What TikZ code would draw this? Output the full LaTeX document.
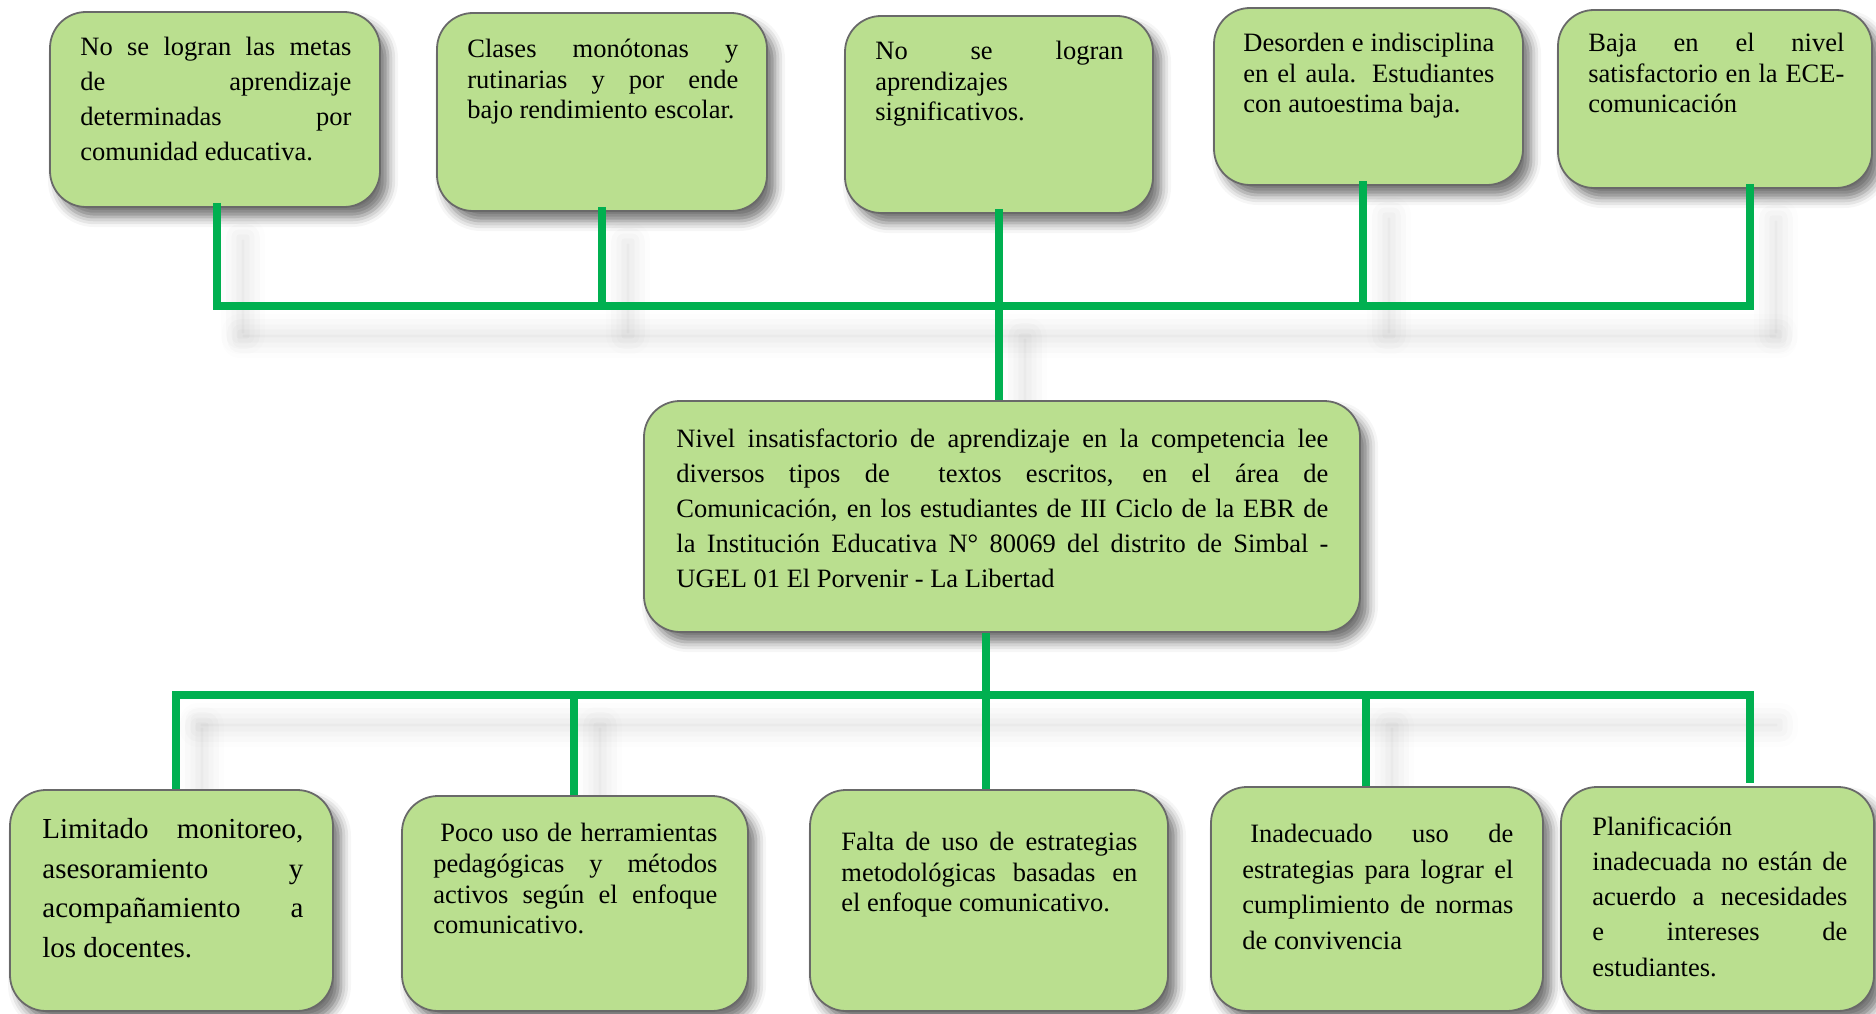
\documentclass[tikz,border=0pt]{standalone}
\usepackage{fontspec}
\setmainfont{Liberation Serif}
\usetikzlibrary{shadows.blur}
\definecolor{verdecaja}{RGB}{186,223,143}
\definecolor{bordecaja}{RGB}{105,105,105}
\definecolor{verderama}{RGB}{0,176,80}
\tolerance=10000
\hyphenpenalty=10000
\hbadness=10000

\tikzset{every picture/.style={line width=0.75pt}}
\tikzset{
  caja/.style={draw=bordecaja, fill=verdecaja, line width=1.8pt, rounded corners=36pt, inner sep=0pt,
    blur shadow={shadow xshift=8pt, shadow yshift=-10pt, shadow blur radius=10pt, shadow opacity=55}},
  texto/.style={anchor=north west, inner sep=0pt, align=justify, font=\fontsize{26.5}{#1}\selectfont},
  texto/.default=30.5,
  rama/.style={draw=verderama, line width=7.5pt},
  sombra/.style={fill=white, blur shadow={shadow xshift=26pt, shadow yshift=-30pt, shadow blur radius=18pt, shadow opacity=12}},
}

\begin{document}
\begin{tikzpicture}[x=1pt,y=1pt,yscale=-1,xscale=1]
\useasboundingbox (0,0) rectangle (1876,1014);
\clip (0,0) rectangle (1876,1014);

%Shadows of the branches
\fill[sombra] (214,302) rectangle (1753,310);
\fill[sombra] (213,207) rectangle (221,306);
\fill[sombra] (598,211) rectangle (606,306);
\fill[sombra] (995,306) rectangle (1003,401);
\fill[sombra] (1359,185) rectangle (1367,306);
\fill[sombra] (1746,188) rectangle (1754,306);
\fill[sombra] (172,691) rectangle (1754,699);
\fill[sombra] (172,695) rectangle (180,790);
\fill[sombra] (570,695) rectangle (578,796);
\fill[sombra] (1362,695) rectangle (1370,787);

%Shape: Rounded Rect (efectos)
\node[caja, minimum width=330, minimum height=195] (ef1) at (215,109.5) {};
\node[caja, minimum width=330, minimum height=198] (ef2) at (602,112) {};
\node[caja, minimum width=308, minimum height=197] (ef3) at (999,114.5) {};
\node[caja, minimum width=309, minimum height=177] (ef4) at (1368.5,96.5) {};
\node[caja, minimum width=314, minimum height=178] (ef5) at (1715,99) {};

%Shape: Rounded Rect (problema central)
\node[caja, minimum width=716, minimum height=231] (pc) at (1002,516.5) {};

%Shape: Rounded Rect (causas)
\node[caja, minimum width=323, minimum height=221] (ca1) at (171.5,900.5) {};
\node[caja, minimum width=346, minimum height=215] (ca2) at (575,903.5) {};
\node[caja, minimum width=358, minimum height=221] (ca3) at (989,900.5) {};
\node[caja, minimum width=332, minimum height=224] (ca4) at (1377,899) {};
\node[caja, minimum width=313, minimum height=224] (ca5) at (1717.5,899) {};

% Text Node
\node[texto=35, text width=271] (ef1t) at (80,37) {No se logran las metas\linebreak de aprendizaje\linebreak determinadas por\linebreak comunidad educativa.};
% Text Node
\node[texto, text width=271] (ef2t) at (467,39) {Clases monótonas y\linebreak rutinarias y por ende\linebreak bajo rendimiento escolar.};
% Text Node
\node[texto, text width=248] (ef3t) at (875,41) {No se logran\linebreak aprendizajes\linebreak significativos.};
% Text Node
\node[texto, text width=251] (ef4t) at (1243,33) {Desorden e indisciplina\linebreak en el aula. Estudiantes\linebreak con autoestima baja.};
% Text Node
\node[texto, text width=256] (ef5t) at (1588,33) {Baja en el nivel\linebreak satisfactorio en la ECE-\linebreak comunicación};
% Text Node
\node[texto=35, text width=652] (pct) at (676,428) {Nivel insatisfactorio de aprendizaje en la competencia lee\linebreak diversos tipos de\ \ textos escritos, en el área de\linebreak Comunicación, en los estudiantes de III Ciclo de la EBR de\linebreak la Institución Educativa N° 80069 del distrito de Simbal -\linebreak UGEL 01 El Porvenir - La Libertad};
% Text Node
\node[texto, font=\fontsize{29}{39.5}\selectfont, text width=261] (ca1t) at (42,818) {Limitado monitoreo,\linebreak asesoramiento y\linebreak acompañamiento a\linebreak los docentes.};
% Text Node
\node[texto=30.7, text width=284] (ca2t) at (433,823) {\hspace{7pt}Poco uso de herramientas\linebreak pedagógicas y métodos\linebreak activos según el enfoque\linebreak comunicativo.};
% Text Node
\node[texto, text width=296] (ca3t) at (841,832) {Falta de uso de estrategias\linebreak metodológicas basadas en\linebreak el enfoque comunicativo.};
% Text Node
\node[texto=35.5, text width=271] (ca4t) at (1242,824) {\hspace{8pt}Inadecuado uso de\linebreak estrategias para lograr el\linebreak cumplimiento de normas\linebreak de convivencia};
% Text Node
\node[texto=35.3, text width=255] (ca5t) at (1592,816) {Planificación\linebreak inadecuada no están de\linebreak acuerdo a necesidades\linebreak e intereses de\linebreak estudiantes.};

%Straight Lines (efectos)
\coordinate (b1) at (217,306);
\coordinate (b2) at (602,306);
\coordinate (b3) at (999,306);
\coordinate (b4) at (1363,306);
\coordinate (b5) at (1750,306);
\draw[rama] ([yshift=-5]ef1.south -| b1) -- (b1);
\draw[rama] ([yshift=-5]ef2.south -| b2) -- (b2);
\draw[rama] ([yshift=-5]ef4.south -| b4) -- (b4);
\draw[rama] ([yshift=-5]ef5.south -| b5) -- (b5);
\draw[rama] ([yshift=-5]ef3.south -| b3) -- (pc.north -| b3);
\draw[rama, line cap=rect] (b1) -- (b5);

%Straight Lines (causas)
\coordinate (d1) at (176,695);
\coordinate (d2) at (574,695);
\coordinate (d3) at (986,695);
\coordinate (d4) at (1366,695);
\coordinate (d5) at (1750,695);
\draw[rama] (pc.south -| d3) -- (ca3.north -| d3);
\draw[rama, line cap=rect] (d1) -- (d5);
\draw[rama] (d1) -- (ca1.north -| d1);
\draw[rama] (d2) -- (ca2.north -| d2);
\draw[rama] (d4) -- (ca4.north -| d4);
\draw[rama] (d5) -- ([yshift=-3]ca5.north -| d5);

\end{tikzpicture}
\end{document}
